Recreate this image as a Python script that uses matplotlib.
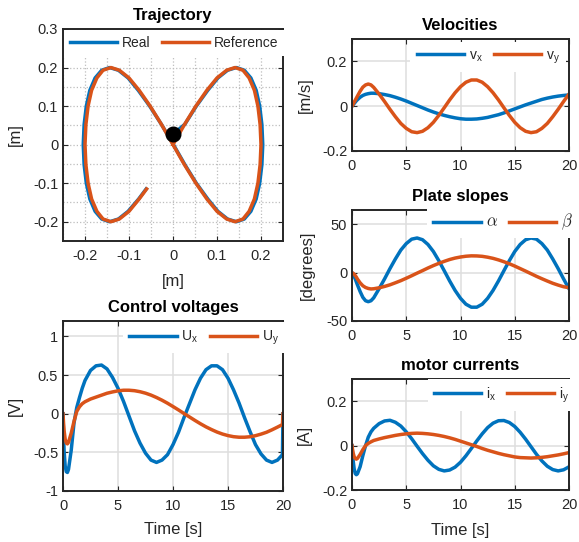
import matplotlib
matplotlib.use('Agg')
import matplotlib.pyplot as plt

plt.rcParams['font.family'] = ['Liberation Sans', 'DejaVu Sans']
plt.rcParams['axes.unicode_minus'] = False

BLUE = '#0072BD'
ORANGE = '#D95319'
DARK = '#262626'

# ball path in the plane [m]
ref_x = [0, 0.026, 0.052, 0.077, 0.100, 0.122, 0.141, 0.159, 0.173, 0.185, 0.193, 0.198,
         0.200, 0.198, 0.193, 0.185, 0.173, 0.159, 0.141, 0.122, 0.100, 0.077, 0.052, 0.026,
         0, -0.026, -0.052, -0.077, -0.100, -0.122, -0.141, -0.159, -0.173, -0.185, -0.193,
         -0.198, -0.200, -0.198, -0.193, -0.185, -0.173, -0.159, -0.141, -0.122, -0.100,
         -0.077, -0.060]
ref_y = [0, 0.052, 0.100, 0.141, 0.173, 0.193, 0.200, 0.193, 0.173, 0.141, 0.100, 0.052,
         0, -0.052, -0.100, -0.141, -0.173, -0.193, -0.200, -0.193, -0.173, -0.141, -0.100,
         -0.052, 0, 0.052, 0.100, 0.141, 0.173, 0.193, 0.200, 0.193, 0.173, 0.141, 0.100,
         0.052, 0, -0.052, -0.100, -0.141, -0.173, -0.193, -0.200, -0.193, -0.173, -0.141,
         -0.115]
real_x = [0, 0.027, 0.053, 0.079, 0.102, 0.124, 0.144, 0.162, 0.177, 0.189, 0.197, 0.202,
          0.204, 0.202, 0.197, 0.189, 0.177, 0.162, 0.144, 0.124, 0.102, 0.079, 0.053, 0.027,
          0.001, -0.026, -0.053, -0.079, -0.102, -0.124, -0.144, -0.162, -0.177, -0.189,
          -0.197, -0.202, -0.204, -0.202, -0.197, -0.189, -0.177, -0.162, -0.144, -0.124,
          -0.102, -0.078, -0.061]
real_y = [0.027, 0.053, 0.100, 0.141, 0.173, 0.193, 0.200, 0.193, 0.173, 0.141, 0.100, 0.052,
          0, -0.052, -0.100, -0.141, -0.173, -0.193, -0.200, -0.193, -0.173, -0.141, -0.100,
          -0.052, 0, 0.052, 0.100, 0.141, 0.173, 0.193, 0.200, 0.193, 0.173, 0.141, 0.100,
          0.052, 0, -0.052, -0.100, -0.141, -0.173, -0.193, -0.200, -0.193, -0.173, -0.141,
          -0.115]
ball_x = [0.0]
ball_y = [0.027]

# time base [s]
time = [0, 0.05, 0.1, 0.2, 0.3, 0.4, 0.5, 0.75, 1, 1.25, 1.5, 1.75, 2,
        2.5, 3, 3.5, 4, 4.5, 5, 5.5, 6, 6.5, 7, 7.5, 8, 8.5, 9, 9.5, 10,
        10.5, 11, 11.5, 12, 12.5, 13, 13.5, 14, 14.5, 15, 15.5, 16, 16.5, 17,
        17.5, 18, 18.5, 19, 19.5, 19.95, 20]

vel_x = [0, 0.003, 0.006, 0.012, 0.018, 0.024, 0.029, 0.040, 0.048, 0.053, 0.056, 0.058, 0.058,
         0.056, 0.052, 0.047, 0.040, 0.032, 0.023, 0.013, 0.003, -0.007, -0.017, -0.026, -0.034,
         -0.041, -0.047, -0.052, -0.056, -0.058, -0.058, -0.057, -0.054, -0.050, -0.044, -0.038,
         -0.030, -0.021, -0.012, -0.003, 0.006, 0.014, 0.022, 0.030, 0.036, 0.041, 0.045, 0.048,
         0.050, 0.050]
vel_y = [0, 0.004, 0.009, 0.018, 0.027, 0.036, 0.045, 0.067, 0.085, 0.095, 0.099, 0.095, 0.084,
         0.054, 0.021, -0.014, -0.047, -0.077, -0.099, -0.114, -0.118, -0.112, -0.096, -0.072,
         -0.041, -0.007, 0.028, 0.060, 0.087, 0.107, 0.117, 0.117, 0.107, 0.087, 0.060, 0.028,
         -0.007, -0.041, -0.072, -0.096, -0.112, -0.118, -0.114, -0.099, -0.077, -0.047, -0.014,
         0.021, 0.051, 0.054]

alpha = [0, -0.5, -1.5, -4, -6.5, -9.5, -12.5, -19.5, -25.5, -29, -30, -29, -26,
         -16.5, -6.4, 4.3, 14.3, 23.5, 30.2, 34.8, 36, 34.2, 29.3, 22, 12.5, 2.1, -8.5,
         -18.3, -26.5, -32.6, -35.7, -35.7, -32.6, -26.5, -18.3, -8.5, 2.1, 12.5, 22, 29.3,
         34.2, 36, 34.8, 30.2, 23.5, 14.3, 4.3, -6.4, -15.6, -16.5]
beta = [0, -0.2, -0.5, -1.5, -3, -4.5, -6.5, -10.5, -13.5, -15.3, -16.3, -16.8, -16.6,
        -15.6, -14.2, -12.5, -10.4, -8.2, -5.7, -3.1, -0.4, 2.2, 4.9, 7.4, 9.7, 11.8, 13.7,
        15.2, 16.3, 17.1, 17.5, 17.4, 17.0, 16.1, 14.9, 13.3, 11.4, 9.3, 6.9, 4.3, 1.7, -1.0,
        -3.7, -6.2, -8.6, -10.9, -12.8, -14.5, -15.4, -15.5]

cur_x = [0, -0.035, -0.065, -0.105, -0.126, -0.131, -0.127, -0.095, -0.045, 0.0, 0.038, 0.062,
         0.078, 0.099, 0.111, 0.114, 0.105, 0.088, 0.062, 0.031, -0.003, -0.036, -0.066, -0.091,
         -0.107, -0.114, -0.110, -0.097, -0.075, -0.046, -0.013, 0.021, 0.053, 0.081, 0.101,
         0.112, 0.113, 0.104, 0.086, 0.060, 0.029, -0.005, -0.039, -0.069, -0.093, -0.108,
         -0.114, -0.109, -0.097, -0.095]
cur_y = [0, -0.018, -0.032, -0.050, -0.058, -0.061, -0.058, -0.040, -0.018, 0.0, 0.010, 0.017,
         0.023, 0.030, 0.036, 0.041, 0.046, 0.050, 0.053, 0.055, 0.056, 0.055, 0.053, 0.050,
         0.046, 0.041, 0.035, 0.028, 0.020, 0.012, 0.004, -0.004, -0.013, -0.021, -0.028,
         -0.035, -0.041, -0.046, -0.051, -0.054, -0.055, -0.056, -0.055, -0.053, -0.050,
         -0.046, -0.042, -0.037, -0.032, -0.032]

volt_x = [0, -0.28, -0.48, -0.68, -0.75, -0.76, -0.72, -0.47, -0.12, 0.08, 0.21, 0.33, 0.43,
          0.56, 0.62, 0.63, 0.58, 0.47, 0.33, 0.16, -0.03, -0.22, -0.38, -0.51, -0.60, -0.63,
          -0.60, -0.53, -0.40, -0.24, -0.05, 0.13, 0.31, 0.46, 0.57, 0.62, 0.62, 0.57, 0.46,
          0.31, 0.14, -0.05, -0.23, -0.40, -0.52, -0.60, -0.63, -0.60, -0.53, 0.0]
volt_y = [0, -0.12, -0.22, -0.33, -0.38, -0.39, -0.37, -0.25, -0.10, 0.03, 0.09, 0.13, 0.155,
          0.19, 0.215, 0.24, 0.265, 0.282, 0.296, 0.304, 0.304, 0.298, 0.285, 0.266, 0.241,
          0.210, 0.175, 0.136, 0.093, 0.049, 0.003, -0.042, -0.087, -0.130, -0.170, -0.205,
          -0.237, -0.263, -0.283, -0.297, -0.304, -0.304, -0.298, -0.284, -0.264, -0.240,
          -0.208, -0.173, -0.14, 0.0]

time_ticks = [0, 5, 10, 15, 20]
time_labels = ['0', '5', '10', '15', '20']

W, H = 579, 542
fig = plt.figure(figsize=(W / 100, H / 100), dpi=100)


def make_axes(left, top, right, bottom):
    return fig.add_axes([left / W, 1 - bottom / H, (right - left) / W, (bottom - top) / H])


def style(ax, title):
    for sp in ax.spines.values():
        sp.set_color(DARK)
        sp.set_linewidth(1.4)
    ax.tick_params(direction='in', length=3.5, width=0.8, top=True, right=True,
                   colors=DARK, labelsize=10.5)
    ax.tick_params(axis='x', pad=5.5)
    ax.tick_params(axis='y', pad=3.5)
    ax.set_axisbelow(True)
    ax.set_title(title, fontsize=12, fontweight='bold', pad=6.3)


def legend(ax, anchor, math=False):
    leg = ax.legend(loc='center', bbox_to_anchor=anchor, ncol=2, frameon=True, fancybox=False,
                    edgecolor='none', facecolor='white', framealpha=1, fontsize=10,
                    handlelength=3.4, handletextpad=0.35, columnspacing=0.8, borderpad=0.45)
    for txt in leg.get_texts():
        txt.set_color(DARK)
        if math:
            txt.set_math_fontfamily('cm')
            txt.set_fontsize(12)
    return leg


def time_axes(ax, ylim, yticks, ylabels, ylabel, label_x):
    ax.set_xlim(0, 20)
    ax.set_ylim(*ylim)
    ax.set_xticks(time_ticks, time_labels)
    ax.set_yticks(yticks, ylabels)
    ax.grid(True, color='#dedede', linewidth=1.1)
    ax.set_ylabel(ylabel, fontsize=12, color=DARK)
    ax.yaxis.set_label_coords(label_x, 0.5)


# Trajectory
ax = make_axes(63, 29, 283, 241)
ax.plot(real_x, real_y, color=BLUE, lw=2.5, label='Real')
ax.plot(ref_x, ref_y, color=ORANGE, lw=2.5, label='Reference')
ax.plot(ball_x, ball_y, 'o', color='black', markersize=10.5)
ax.set_xlim(-0.25, 0.25)
ax.set_ylim(-0.25, 0.3)
ax.set_xticks([-0.2, -0.1, 0, 0.1, 0.2], ['-0.2', '-0.1', '0', '0.1', '0.2'])
ax.set_yticks([-0.2, -0.1, 0, 0.1, 0.2, 0.3], ['-0.2', '-0.1', '0', '0.1', '0.2', '0.3'])
ax.set_xticks([-0.25, -0.15, -0.05, 0.05, 0.15, 0.25], minor=True)
ax.set_yticks([-0.25, -0.15, -0.05, 0.05, 0.15, 0.25], minor=True)
ax.tick_params(which='minor', length=0)
ax.grid(True, which='both', color='#bdbdbd', linestyle=':', linewidth=0.9)
style(ax, 'Trajectory')
ax.set_xlabel('[m]', fontsize=12, color=DARK)
ax.set_ylabel('[m]', fontsize=12, color=DARK)
ax.xaxis.set_label_coords(0.5, -0.158)
ax.yaxis.set_label_coords(-0.182, 0.5)
legend(ax, (0.505, 0.934))

# Velocities
ax = make_axes(352, 39, 569, 151)
ax.plot(time, vel_x, color=BLUE, lw=2.5, label=r'v$_{\mathregular{x}}$')
ax.plot(time, vel_y, color=ORANGE, lw=2.5, label=r'v$_{\mathregular{y}}$')
time_axes(ax, (-0.2, 0.3), [-0.2, 0, 0.2], ['-0.2', '0', '0.2'], '[m/s]', -0.18)
style(ax, 'Velocities')
legend(ax, (0.627, 0.839))

# Plate slopes
ax = make_axes(352, 210, 569, 321)
ax.plot(time, alpha, color=BLUE, lw=2.5, label=r'$\alpha$')
ax.plot(time, beta, color=ORANGE, lw=2.5, label=r'$\beta$')
time_axes(ax, (-50, 65), [-50, 0, 50], ['-50', '0', '50'], '[degrees]', -0.17)
style(ax, 'Plate slopes')
legend(ax, (0.696, 0.892), math=True)

# Motor currents
ax = make_axes(352, 379, 569, 490)
ax.plot(time, cur_x, color=BLUE, lw=2.5, label=r'i$_{\mathregular{x}}$')
ax.plot(time, cur_y, color=ORANGE, lw=2.5, label=r'i$_{\mathregular{y}}$')
time_axes(ax, (-0.2, 0.3), [-0.2, 0, 0.2], ['-0.2', '0', '0.2'], '[A]', -0.184)
style(ax, 'motor currents')
ax.set_xlabel('Time [s]', fontsize=12, color=DARK)
ax.xaxis.set_label_coords(0.5, -0.3)
legend(ax, (0.689, 0.856))

# Control voltages
ax = make_axes(63, 321, 283, 491)
ax.plot(time, volt_x, color=BLUE, lw=2.5, label=r'U$_{\mathregular{x}}$')
ax.plot(time, volt_y, color=ORANGE, lw=2.5, label=r'U$_{\mathregular{y}}$')
time_axes(ax, (-1, 1.2), [-1, -0.5, 0, 0.5, 1], ['-1', '-0.5', '0', '0.5', '1'], '[V]', -0.182)
style(ax, 'Control voltages')
ax.set_xlabel('Time [s]', fontsize=12, color=DARK)
ax.xaxis.set_label_coords(0.5, -0.185)
legend(ax, (0.641, 0.902))

fig.savefig('out.png', dpi=100, facecolor='white')
